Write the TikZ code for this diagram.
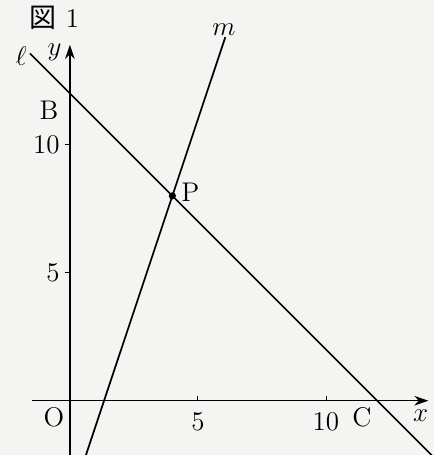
\documentclass[tikz,border=0pt]{standalone}
\usepackage{fontspec}
\newfontfamily\jpfont{Noto Sans CJK JP}
\usetikzlibrary{arrows.meta}
\definecolor{paper}{HTML}{F4F4F2}

\begin{document}
\begin{tikzpicture}[
    x=0.4cm, y=0.4cm,
    axis/.style={-{Stealth[length=2.2mm, width=1.5mm]}, line width=0.55pt},
    graph/.style={line width=0.75pt},
    tick/.style={line width=0.4pt},
    lbl/.style={inner sep=1pt, font=\large}
  ]
    \fill[paper] (-2.73,-2.12) rectangle (14.22,15.65);
    \useasboundingbox (-2.73,-2.12) rectangle (14.22,15.65);
    \clip (-2.73,-2.12) rectangle (14.22,15.65);
    % points
    \coordinate (O) at (0,0);
    \coordinate (B) at (0,12);
    \coordinate (C) at (12,0);
    \coordinate (P) at (4,8);
    \coordinate (lstart) at (-1.56,13.56);
    \coordinate (lend) at (14.5,-2.5);
    \coordinate (mstart) at (6.07,14.2);
    \coordinate (mend) at (0.5,-2.5);
    \coordinate (xstart) at (-1.48,0);
    \coordinate (xend) at (14,0);
    \coordinate (ystart) at (0,-2.5);
    \coordinate (yend) at (0,13.9);
    % axes
    \draw[axis] (xstart) -- (xend);
    \draw[axis] (ystart) -- (yend);
    \foreach \t in {5,10} {
      \coordinate (xt\t) at (\t,0);
      \coordinate (yt\t) at (0,\t);
      \draw[tick] (xt\t) -- ++(0,0.18);
      \draw[tick] (yt\t) -- ++(-0.18,0);
    }
    % lines
    \draw[graph] (lstart) -- (lend);
    \draw[graph] (mstart) -- (mend);
    \fill (P) circle (1.6pt);
    % labels
    \node[lbl] (fig) at (-0.6,14.95) {{\jpfont 図}\,\,1};
    \node[lbl] (lname) at (-1.9,13.45) {$\ell$};
    \node[lbl] (mname) at (6.02,14.5) {$m$};
    \node[lbl] (yname) at (-0.6,13.6) {$y$};
    \node[lbl] (xname) at (13.7,-0.58) {$x$};
    \node[lbl] (Bname) at (-0.82,11.36) {B};
    \node[lbl] (Cname) at (11.4,-0.64) {C};
    \node[lbl] (Oname) at (-0.62,-0.64) {O};
    \node[lbl] (Pname) at (4.7,8.15) {P};
    \node[lbl, anchor=east] (y10) at (-0.3,10) {10};
    \node[lbl, anchor=east] (y5) at (-0.3,5) {5};
    \node[lbl] (x5) at (5,-0.83) {5};
    \node[lbl] (x10) at (10,-0.83) {10};
\end{tikzpicture}
\end{document}
